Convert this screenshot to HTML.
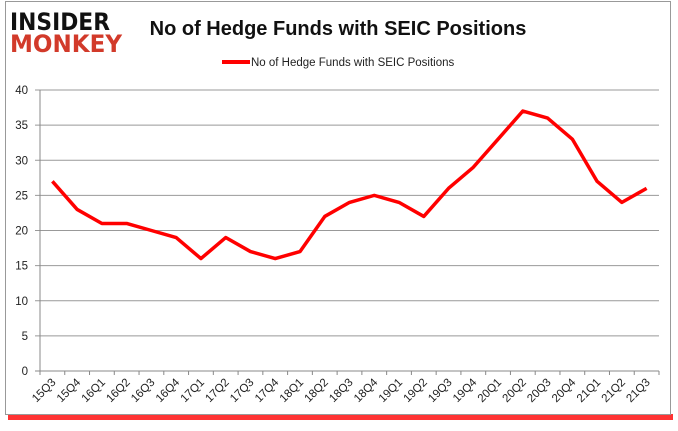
<!DOCTYPE html>
<html><head><meta charset="utf-8"><style>
body{margin:0;width:678px;height:431px;background:#fff;overflow:hidden;font-family:"Liberation Sans",sans-serif}
</style></head><body>
<svg width="678" height="431" style="position:absolute;left:0;top:0">
<rect x="8" y="414" width="665" height="6" fill="#f00" opacity="0.8"/>
<rect x="5.5" y="1.5" width="665" height="413" fill="#fff" stroke="#999"/>
<text x="10" y="30" font-size="24" font-weight="bold" fill="#111" font-family="DejaVu Sans" textLength="100" lengthAdjust="spacingAndGlyphs">INSIDER</text>
<text x="10" y="52" font-size="24" font-weight="bold" fill="#d23a2a" font-family="DejaVu Sans" textLength="112" lengthAdjust="spacingAndGlyphs">MONKEY</text>
<text x="338" y="35" font-size="20" font-weight="bold" text-anchor="middle" fill="#111">No of Hedge Funds with SEIC Positions</text>
<line x1="222" y1="62" x2="250" y2="62" stroke="#f00" stroke-width="4"/>
<text x="251" y="66" font-size="11.5" fill="#222">No of Hedge Funds with SEIC Positions</text>
<g id="grid"></g><g id="axes"></g><g id="series"></g>
</svg>
<script>
const categories=["15Q3","15Q4","16Q1","16Q2","16Q3","16Q4","17Q1","17Q2","17Q3","17Q4","18Q1","18Q2","18Q3","18Q4","19Q1","19Q2","19Q3","19Q4","20Q1","20Q2","20Q3","20Q4","21Q1","21Q2","21Q3"];
const values=[27,23,21,21,20,19,16,19,17,16,17,22,24,25,24,22,26,29,33,37,36,33,27,24,26];
const yTicks=[0,5,10,15,20,25,30,35,40];
const NS="http://www.w3.org/2000/svg";
const L=40,R=659,T=90,B=371,step=(R-L)/categories.length;
const x=i=>L+step*(i+0.5), y=v=>B-(v/40)*(B-T);
function mk(t,a,p){const e=document.createElementNS(NS,t);for(const k in a)e.setAttribute(k,a[k]);p.appendChild(e);return e;}
const g=document.getElementById('grid'),ax=document.getElementById('axes'),s=document.getElementById('series');
yTicks.forEach(v=>{
 const l=mk('line',{x1:35,x2:R,y1:y(v),y2:y(v),stroke:v==0?'#888':'#999','stroke-width':1},g);
 
 
 const t=mk('text',{x:28,y:y(v)+4,'font-size':11.5,'text-anchor':'end',fill:'#222'},ax);t.textContent=v;
 
 
});
const yl=mk('line',{x1:L,x2:L,y1:T,y2:B+4,stroke:'#888'},ax);


categories.forEach((c,i)=>{
 const tk=mk('line',{x1:L+step*(i+1),x2:L+step*(i+1),y1:B,y2:B+4,stroke:'#888'},ax);
 
 
 const t=mk('text',{x:x(i)+4,y:B+12,'font-size':11.5,'text-anchor':'end',fill:'#222',transform:`rotate(-45 ${x(i)+4} ${B+12})`},ax);t.textContent=c;
 
 
});
const p=mk('polyline',{points:values.map((v,i)=>x(i)+','+y(v)).join(' '),fill:'none',stroke:'#f00','stroke-width':3.5,'stroke-linejoin':'round'},s);


</script>
</body></html>
